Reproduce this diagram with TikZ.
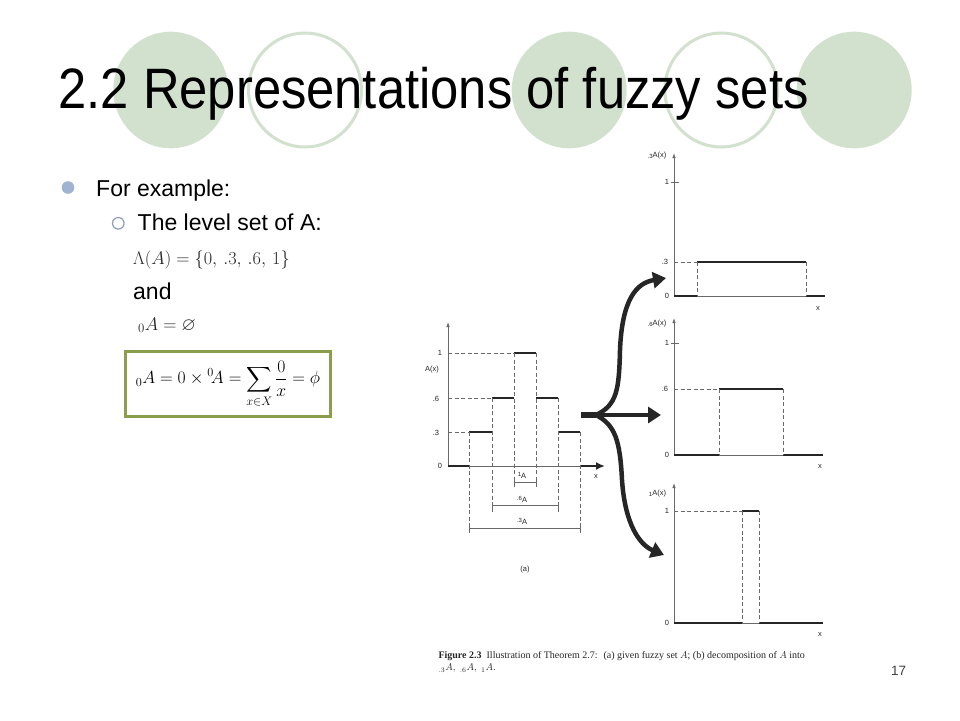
\RequirePackage{fix-cm}
\documentclass[tikz,border=0pt]{standalone}
\usepackage{amssymb}
\usepackage{fontspec}
\setmainfont{Liberation Sans}
\newfontfamily\capfont{Liberation Serif}
\usetikzlibrary{arrows.meta}
\definecolor{circfill}{RGB}{210,225,206}
\definecolor{boxgreen}{RGB}{139,158,77}
\definecolor{bulletblue}{RGB}{160,180,210}
\definecolor{bulletline}{RGB}{140,158,190}
\definecolor{figdark}{RGB}{38,38,38}
\definecolor{figgray}{RGB}{105,105,105}
\begin{document}
\begin{tikzpicture}[x=1pt,y=-1pt,
  thickseg/.style={line width=2.6pt,figdark},
  axisline/.style={line width=0.8pt,figgray},
  dashline/.style={line width=0.8pt,figgray,dash pattern=on 4pt off 2.5pt},
  figlbl/.style={font=\fontsize{7.5}{8}\selectfont,text=figdark,inner sep=0pt},
  flow/.style={line width=4.5pt,figdark,-{Triangle[length=13pt,width=16pt]}},
  bodytext/.style={font=\fontsize{23}{27}\selectfont,anchor=base west,inner sep=0pt},
  mathtext/.style={font=\fontsize{18.3}{21}\selectfont,anchor=base west,inner sep=0pt,text=black!85},
  capt/.style={font=\capfont\fontsize{10}{12}\selectfont,anchor=base west,inner sep=0pt,text=figdark},
  deco/.style={fill=circfill,draw=none},
  decoring/.style={draw=circfill,line width=3pt}
]
\useasboundingbox (0,0) rectangle (960,720);
\fill[white] (0,0) rectangle (960,720);

% decorative circles
\path[deco] (170.8,90) ellipse [x radius=57.5, y radius=58.3];
\path[decoring] (305,90) ellipse [x radius=56.5, y radius=57];
\path[deco] (569.2,90) ellipse [x radius=57.5, y radius=58.3];
\path[decoring] (721.3,90) ellipse [x radius=56.5, y radius=57];
\path[deco] (854.2,90) ellipse [x radius=57.5, y radius=58.3];

% title
\node[anchor=base west,inner sep=0pt,font=\fontsize{57}{64}\selectfont] (title) at (58.3,108.3)
  {\scalebox{0.89}[1]{2.2 Representations of fuzzy sets}};

% bullets
\fill[bulletblue] (68,187.5) circle (6.3);
\node[bodytext] (ex) at (96,196) {For example:};
\draw[bulletline,line width=1.2pt] (118.3,223.3) circle (5.8);
\node[bodytext] (lvl) at (137.5,230) {The level set of A:};
\node[mathtext] (lam) at (133,264) {$\Lambda(A) = \{0,\, .3,\, .6,\, 1\}$};
\node[bodytext] (and) at (133,299.3) {and};
\node[mathtext] (zero) at (138,330) {${}_0A = \varnothing$};
\draw[boxgreen,line width=3pt] (125,351.7) rectangle (330.7,416);
\node[font=\fontsize{17.6}{21}\selectfont,inner sep=0pt] (boxf) at (228,384)
  {$\displaystyle {}_0A = 0\times{}^0\!A = \sum_{x\in X}\frac{0}{x} = \phi$};

% ---------- left graph (a) ----------
\draw[axisline,-{Latex[length=5pt,width=3.5pt]}] (448,466) -- (448,322);
\draw[axisline] (469,466) -- (580,466);
\draw[thickseg] (448,466) -- (469,466);
\draw[thickseg,-{Latex[length=9pt,width=8pt]}] (580,466) -- (605,466);
\draw[thickseg] (469,432) -- (492,432);
\draw[thickseg] (492,398) -- (514,398);
\draw[thickseg] (514,353) -- (536,353);
\draw[thickseg] (536,398) -- (558,398);
\draw[thickseg] (558,432) -- (580,432);
\draw[dashline] (448,353) -- (514,353);
\draw[dashline] (448,398) -- (492,398);
\draw[dashline] (448,432) -- (469,432);
\draw[dashline] (469,432) -- (469,533);
\draw[dashline] (580,432) -- (580,533);
\draw[dashline] (492,398) -- (492,512);
\draw[dashline] (558,398) -- (558,512);
\draw[dashline] (514,353) -- (514,487);
\draw[dashline] (536,353) -- (536,487);
\draw[axisline] (514,482) -- (536,482) (514,479) -- (514,486) (536,479) -- (536,486);
\draw[axisline] (492,505) -- (558,505) (492,502) -- (492,509) (558,502) -- (558,509);
\draw[axisline] (469,528) -- (580,528) (469,525) -- (469,532) (580,525) -- (580,532);
\node[figlbl] (l1A) at (522,475.5) {\raisebox{2pt}{\fontsize{6}{6}\selectfont 1}A};
\node[figlbl] (l6A) at (522,499) {\raisebox{2pt}{\fontsize{6}{6}\selectfont .6}A};
\node[figlbl] (l3A) at (522,521.5) {\raisebox{2pt}{\fontsize{6}{6}\selectfont .3}A};
\node[figlbl] (ay1) at (440,353) {1};
\node[figlbl] (ayA) at (432,370) {A(x)};
\node[figlbl] (ay6) at (436,399) {.6};
\node[figlbl] (ay3) at (436,433) {.3};
\node[figlbl] (ay0) at (440,466) {0};
\node[figlbl] (ax) at (596,477) {x};
\node[figlbl] (cap_a) at (525,570) {(a)};

% ---------- right graph 1 (.3A) ----------
\draw[axisline,-{Latex[length=5pt,width=3.5pt]}] (674,296) -- (674,153);
\draw[axisline] (671,182) -- (679,182);
\draw[axisline] (697,296) -- (806,296);
\draw[thickseg] (674,296) -- (697,296);
\draw[thickseg] (697,262) -- (806,262);
\draw[thickseg] (806,296) -- (825,296);
\draw[dashline] (674,262) -- (697,262);
\draw[dashline] (697,262) -- (697,296);
\draw[dashline] (806,262) -- (806,296);
\node[figlbl] (r1lab) at (657,155.5) {\raisebox{-1.5pt}{\fontsize{6}{6}\selectfont .3}A(x)};
\node[figlbl] (r1y1) at (667,182) {1};
\node[figlbl] (r1y3) at (665,262) {.3};
\node[figlbl] (r1y0) at (667,296) {0};
\node[figlbl] (r1x) at (818,308.5) {x};

% ---------- right graph 2 (.6A) ----------
\draw[axisline,-{Latex[length=5pt,width=3.5pt]}] (674,455) -- (674,318);
\draw[axisline] (671,343) -- (679,343);
\draw[axisline] (719,455) -- (783,455);
\draw[thickseg] (674,455) -- (719,455);
\draw[thickseg] (719,389) -- (783,389);
\draw[thickseg] (783,455) -- (823,455);
\draw[dashline] (674,389) -- (719,389);
\draw[dashline] (719,389) -- (719,455);
\draw[dashline] (783,389) -- (783,455);
\node[figlbl] (r2lab) at (657,323.5) {\raisebox{-1.5pt}{\fontsize{6}{6}\selectfont .6}A(x)};
\node[figlbl] (r2y1) at (667,343) {1};
\node[figlbl] (r2y6) at (665,389) {.6};
\node[figlbl] (r2y0) at (667,455) {0};
\node[figlbl] (r2x) at (820,467) {x};

% ---------- right graph 3 (1A) ----------
\draw[axisline,-{Latex[length=5pt,width=3.5pt]}] (674,623) -- (674,483);
\draw[axisline] (742,623) -- (759,623);
\draw[thickseg] (674,623) -- (742,623);
\draw[thickseg] (742,511) -- (759,511);
\draw[thickseg] (759,623) -- (823,623);
\draw[dashline] (674,511) -- (742,511);
\draw[dashline] (742,511) -- (742,623);
\draw[dashline] (759,511) -- (759,623);
\node[figlbl] (r3lab) at (657.5,493.5) {\raisebox{-1.5pt}{\fontsize{6}{6}\selectfont 1}A(x)};
\node[figlbl] (r3y1) at (667,511) {1};
\node[figlbl] (r3y0) at (667,623) {0};
\node[figlbl] (r3x) at (820,635) {x};

% ---------- decomposition arrows ----------
\coordinate (src) at (581,415);
\coordinate (br) at (596,415);
\coordinate (tipU) at (666,278);
\coordinate (tipM) at (661,415);
\coordinate (tipL) at (664,555);
\draw[line width=5.5pt,figdark] (src) -- (br);
\draw[flow] (br) -- (tipM);
\draw[flow] (br) .. controls (617,405) and (619,390) .. (620,350)
                 .. controls (622,300) and (636,283) .. (tipU);
\draw[flow] (br) .. controls (615,425) and (620,440) .. (622,480)
                 .. controls (625,525) and (640,545) .. (tipL);

% ---------- caption ----------
\node[capt] (cap1) at (438.3,658) {\textbf{Figure 2.3}\enspace Illustration of Theorem 2.7: \ (a) given fuzzy set $A$; (b) decomposition of $A$ into};
\node[capt] (cap2) at (438.3,670.5) {${}_{.3}A,\ {}_{.6}A,\ {}_{1}A.$};

% slide number
\node[anchor=base west,inner sep=0pt,font=\fontsize{13.5}{15}\selectfont,text=black!75] (num) at (891,675) {17};
\end{tikzpicture}
\end{document}
